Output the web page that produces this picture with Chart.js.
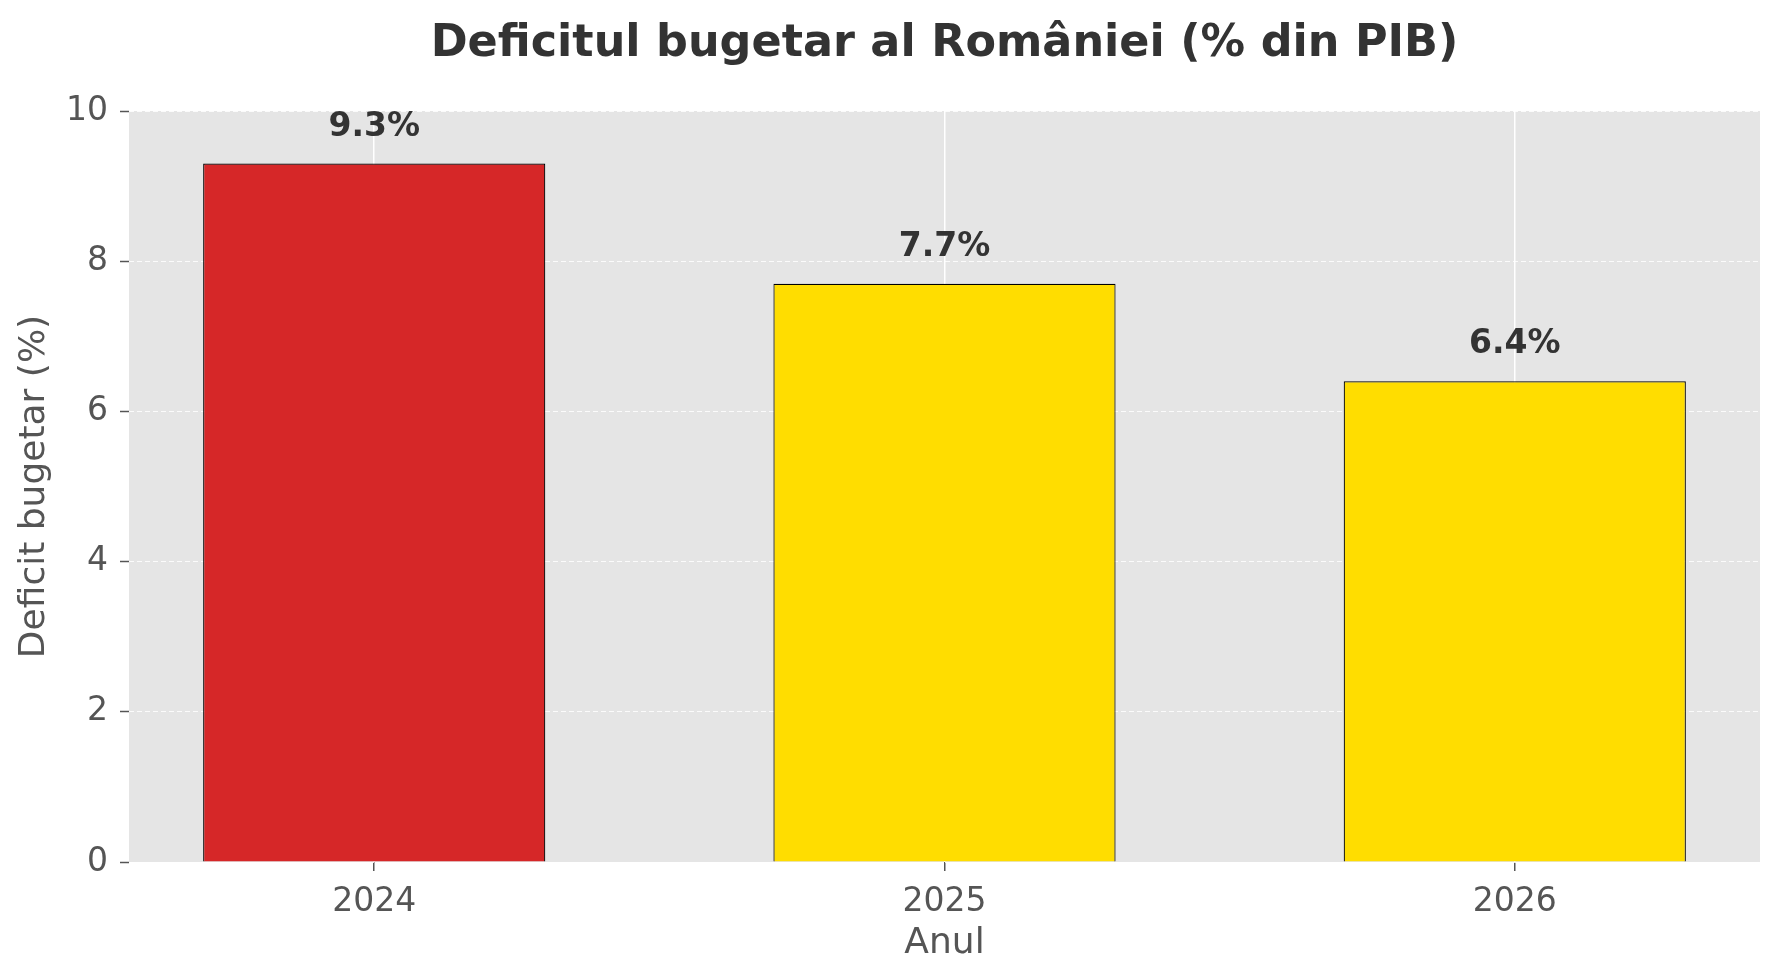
<!DOCTYPE html>
<html>
<head>
<meta charset="utf-8">
<title>Deficitul bugetar al României</title>
<script src="https://cdn.jsdelivr.net/npm/chart.js@4.4.1/dist/chart.umd.min.js"></script>
<style>
  html, body { margin: 0; padding: 0; background: #ffffff; }
  #wrap { width: 1779px; height: 979px; }
</style>
</head>
<body>
<div id="wrap"><canvas id="deficitChart" width="1779" height="979"></canvas></div>
<script>
"use strict";

/* ----- data ----- */
var years = ["2024", "2025", "2026"];
var deficitValues = [9.3, 7.7, 6.4];
var barColors = ["#d62728", "#ffdd00", "#ffdd00"];
var yTicks = [0, 2, 4, 6, 8, 10];

var FONT = "'DejaVu Sans', sans-serif";

// grey plot panel, drawn behind grid and bars
var panelBackground = {
  id: "panelBackground",
  beforeDraw: function (chart) {
    var a = chart.chartArea;
    var ctx = chart.ctx;
    ctx.save();
    ctx.fillStyle = "#e5e5e5";
    ctx.fillRect(a.left, a.top, a.right - a.left, a.bottom - a.top);
    ctx.restore();
  }
};

// value labels above each bar
var valueLabels = {
  id: "valueLabels",
  afterDatasetsDraw: function (chart) {
    var ctx = chart.ctx;
    var meta = chart.getDatasetMeta(0);
    ctx.save();
    ctx.font = "bold 33px " + FONT;
    ctx.fillStyle = "#333333";
    ctx.textAlign = "center";
    ctx.textBaseline = "alphabetic";
    meta.data.forEach(function (bar, i) {
      ctx.fillText(deficitValues[i].toFixed(1) + "%", bar.x, bar.y - 28);
    });
    ctx.restore();
  }
};

var ctx = document.getElementById("deficitChart");

new Chart(ctx, {
  type: "bar",
  data: {
    datasets: [{
      data: deficitValues.map(function (v, i) { return { x: i, y: v }; }),
      backgroundColor: barColors,
      borderColor: "#000000",
      borderWidth: 1.2,
      categoryPercentage: 1,
      barPercentage: 0.6
    }]
  },
  options: {
    responsive: false,
    animation: false,
    devicePixelRatio: 1,
    layout: { padding: { left: 0, right: 19, top: 0, bottom: 0 } },
    plugins: {
      legend: { display: false },
      tooltip: { enabled: false },
      title: {
        display: true,
        fullSize: false, // centre over the plot area, like the reference
        text: "Deficitul bugetar al României (% din PIB)",
        color: "#333333",
        font: { family: FONT, size: 44.5, weight: "bold", lineHeight: 1.2 },
        padding: { top: 18, bottom: 39.6 }
      }
    },
    scales: {
      x: {
        type: "linear",
        offset: false,
        min: -0.43,
        max: 2.43,
        afterBuildTicks: function (scale) {
          scale.ticks = years.map(function (y, i) { return { value: i }; });
        },
        afterFit: function (scale) { scale.height = 117; },
        ticks: {
          color: "#555555",
          font: { family: FONT, size: 33 },
          padding: 12,
          maxRotation: 0,
          callback: function (value) { return years[value]; }
        },
        grid: {
          offset: false,
          color: "#ffffff",
          lineWidth: 1.5,
          drawTicks: true,
          tickLength: 9,
          tickColor: "#555555",
          tickWidth: 1.5
        },
        border: { display: false },
        title: {
          display: true,
          text: "Anul",
          color: "#555555",
          font: { family: FONT, size: 36 },
          padding: { top: 0, bottom: 14 }
        }
      },
      y: {
        min: 0,
        max: 10,
        afterBuildTicks: function (scale) {
          scale.ticks = yTicks.map(function (v) { return { value: v }; });
        },
        afterFit: function (scale) { scale.width = 129; },
        ticks: {
          color: "#555555",
          font: { family: FONT, size: 33 },
          padding: 12
        },
        grid: {
          color: "rgba(255,255,255,0.85)",
          lineWidth: 1,
          drawTicks: true,
          tickLength: 9,
          tickColor: "#555555",
          tickWidth: 1.5,
          tickBorderDash: []
        },
        border: { display: false, dash: [5, 3] },
        title: {
          display: true,
          text: "Deficit bugetar (%)",
          color: "#555555",
          font: { family: FONT, size: 36 },
          padding: { top: 13, bottom: 0 }
        }
      }
    }
  },
  plugins: [panelBackground, valueLabels]
});
</script>
</body>
</html>
